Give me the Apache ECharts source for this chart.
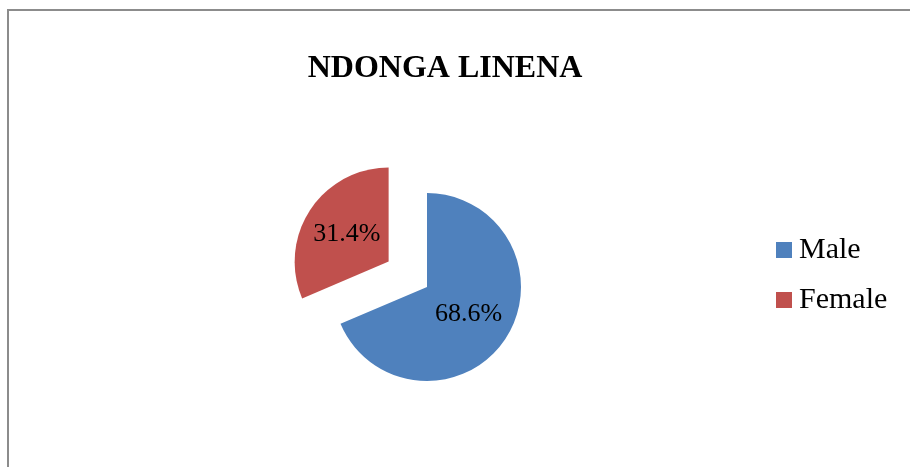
<!DOCTYPE html>
<html>
<head>
<meta charset="utf-8">
<script src="https://cdn.jsdelivr.net/npm/echarts@6/dist/echarts.min.js"></script>
<style>
  html, body { margin: 0; padding: 0; background: #fff; }
  #main { width: 910px; height: 467px; }
</style>
</head>
<body>
<div id="main"></div>
<script>
// 数据
var categories = ['Male', 'Female'];
var values = [68.6, 31.4];
var colors = ['#4F81BD', '#C0504D'];

var myChart = echarts.init(document.getElementById('main'));

var pieData = categories.map(function (name, i) {
    return {
        name: name,
        value: values[i],
        selected: name === 'Female',
        itemStyle: { color: colors[i] }
    };
});

var options = {
    animation: false,
    backgroundColor: '#fff',
    title: {
        text: 'NDONGA LINENA',
        left: 440,
        top: 48,
        textAlign: 'center',
        textStyle: {
            fontFamily: 'Liberation Serif',
            fontWeight: 'bold',
            fontSize: 32,
            color: '#000'
        }
    },
    legend: {
        orient: 'vertical',
        left: 771,
        top: 230,
        icon: 'rect',
        itemWidth: 16,
        itemHeight: 16,
        itemGap: 20,
        selectedMode: false,
        data: categories,
        textStyle: {
            fontFamily: 'Liberation Serif',
            fontSize: 30,
            color: '#000',
            padding: [0, 0, 0, 2]
        }
    },
    graphic: [{
        type: 'rect',
        shape: { x: 8, y: 10, width: 950, height: 500 },
        style: { fill: 'none', stroke: '#8c8c8c', lineWidth: 2 },
        silent: true
    }],
    series: [{
        name: 'NDONGA LINENA',
        type: 'pie',
        center: [427, 287],
        radius: 94,
        startAngle: 90,
        clockwise: true,
        selectedMode: 'single',
        selectedOffset: 46,
        label: {
            show: true,
            position: 'inside',
            fontFamily: 'Liberation Serif',
            fontSize: 26,
            color: '#000',
            formatter: function (p) { return p.value.toFixed(1) + '%'; }
        },
        labelLine: { show: false },
        emphasis: { disabled: true },
        itemStyle: { borderWidth: 0 },
        data: pieData
    }]
};
myChart.setOption(options, true);
</script>
</body>
</html>
